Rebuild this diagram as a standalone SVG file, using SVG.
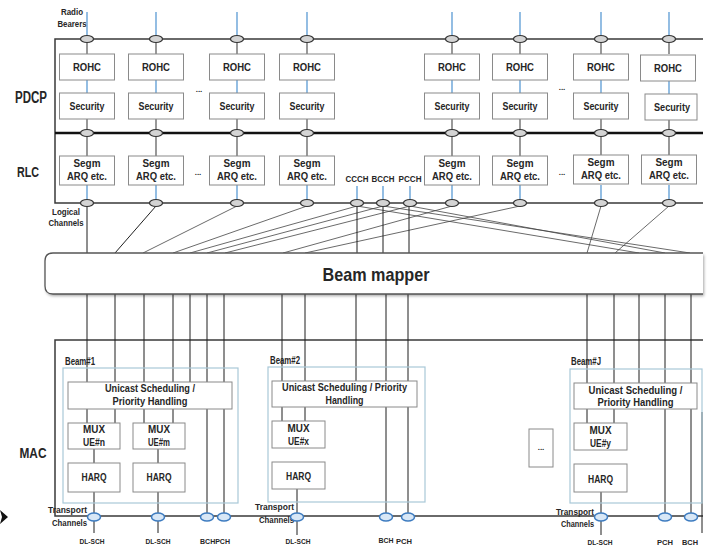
<svg xmlns="http://www.w3.org/2000/svg" width="708" height="546" viewBox="0 0 708 546">
<defs>
<style>
.t{font-family:"Liberation Sans",Arial,sans-serif;font-weight:bold;fill:#262626;text-anchor:middle}
.te{font-family:"Liberation Sans",Arial,sans-serif;font-weight:bold;fill:#262626;text-anchor:end}
.ts{font-family:"Liberation Sans",Arial,sans-serif;font-weight:bold;fill:#262626;text-anchor:start}
.box{fill:#fff;stroke:#8a8a8a;stroke-width:1}
.blue{stroke:#5B9BD5;stroke-width:1.3;fill:none}
.gray{stroke:#555;stroke-width:1.2;fill:none}
.ell{fill:#d4d4d4;stroke:#333;stroke-width:1.2}
.tell{fill:#d8e7f6;stroke:#3E7CC0;stroke-width:1.5}
.beam{fill:none;stroke:#a9c8d8;stroke-width:1.2}
.wire{stroke:#1f1f1f;stroke-width:1;fill:none}
.thin{stroke:#444;stroke-width:0.8;fill:none}
.frame{stroke:#3a3a3a;stroke-width:1.5;fill:none}
</style>
<filter id="sh" x="-5%" y="-20%" width="110%" height="150%"><feDropShadow dx="1" dy="2" stdDeviation="1.5" flood-color="#000" flood-opacity="0.35"/></filter>
</defs>
<rect width="708" height="546" fill="#fff"/>

<g id="frames">
<path class="frame" d="M703,39 H55 V203 H703"/>
<line x1="55" y1="133" x2="703" y2="133" stroke="#111" stroke-width="2.5"/>
<path class="frame" d="M703,340 H55 V516 H703"/>
<line x1="702" y1="412" x2="702" y2="533" class="wire"/>
</g>

<g id="labels">
<text class="t" x="31" y="103" font-size="16" textLength="32" lengthAdjust="spacingAndGlyphs">PDCP</text>
<text class="t" x="28" y="177" font-size="14" textLength="22" lengthAdjust="spacingAndGlyphs">RLC</text>
<text class="t" x="33" y="458" font-size="14" textLength="27" lengthAdjust="spacingAndGlyphs">MAC</text>
<text class="t" x="72" y="15" font-size="8.5" textLength="22" lengthAdjust="spacingAndGlyphs">Radio</text>
<text class="t" x="72" y="27" font-size="8.5" textLength="29" lengthAdjust="spacingAndGlyphs">Bearers</text>
<text class="t" x="66" y="215" font-size="8.5" textLength="28" lengthAdjust="spacingAndGlyphs">Logical</text>
<text class="t" x="66" y="226" font-size="8.5" textLength="35" lengthAdjust="spacingAndGlyphs">Channels</text>
<text class="t" x="357" y="182" font-size="9.5" textLength="23" lengthAdjust="spacingAndGlyphs">CCCH</text>
<text class="t" x="383" y="182" font-size="9.5" textLength="23" lengthAdjust="spacingAndGlyphs">BCCH</text>
<text class="t" x="410" y="182" font-size="9.5" textLength="23" lengthAdjust="spacingAndGlyphs">PCCH</text>
<text class="t" x="199" y="92" font-size="8">...</text>
<text class="t" x="562" y="90" font-size="8">...</text>
<text class="t" x="198" y="175" font-size="8">...</text>
<text class="t" x="562" y="175" font-size="8">...</text>
<text class="ts" x="65" y="365" font-size="10" textLength="30" lengthAdjust="spacingAndGlyphs">Beam#1</text>
<text class="ts" x="270" y="364" font-size="10" textLength="30" lengthAdjust="spacingAndGlyphs">Beam#2</text>
<text class="ts" x="571" y="365" font-size="10" textLength="30" lengthAdjust="spacingAndGlyphs">Beam#J</text>
<text class="te" x="87" y="513" font-size="9" textLength="39" lengthAdjust="spacingAndGlyphs">Transport</text>
<text class="te" x="87" y="526" font-size="9" textLength="35" lengthAdjust="spacingAndGlyphs">Channels</text>
<text class="te" x="294" y="510" font-size="9" textLength="39" lengthAdjust="spacingAndGlyphs">Transport</text>
<text class="te" x="294" y="523" font-size="9" textLength="35" lengthAdjust="spacingAndGlyphs">Channels</text>
<text class="te" x="594" y="515" font-size="9" textLength="38" lengthAdjust="spacingAndGlyphs">Transport</text>
<text class="te" x="594" y="527" font-size="9" textLength="33" lengthAdjust="spacingAndGlyphs">Channels</text>
<text class="t" x="92" y="544" font-size="8" textLength="25" lengthAdjust="spacingAndGlyphs">DL-SCH</text>
<text class="t" x="158" y="544" font-size="8" textLength="25" lengthAdjust="spacingAndGlyphs">DL-SCH</text>
<text class="t" x="215" y="544" font-size="8" textLength="30" lengthAdjust="spacingAndGlyphs">BCHPCH</text>
<text class="t" x="298" y="544" font-size="8" textLength="25" lengthAdjust="spacingAndGlyphs">DL-SCH</text>
<text class="t" x="386" y="543" font-size="8" textLength="15" lengthAdjust="spacingAndGlyphs">BCH</text>
<text class="t" x="404" y="544" font-size="8" textLength="16" lengthAdjust="spacingAndGlyphs">PCH</text>
<text class="t" x="600" y="545" font-size="8" textLength="25" lengthAdjust="spacingAndGlyphs">DL-SCH</text>
<text class="t" x="665" y="545" font-size="8" textLength="16" lengthAdjust="spacingAndGlyphs">PCH</text>
<text class="t" x="690" y="545" font-size="8" textLength="16" lengthAdjust="spacingAndGlyphs">BCH</text>
<polygon points="0,510 8,517 0,524 2,517" fill="#111"/>
</g>

<g id="connectors">
<g class="blue">
<path d="M87,12V35.5M156,12V35.5M237,12V35.5M307,12V35.5M452,12V35.5M520,12V35.5M601,12V35.5M669,12V35.5"/>
<path d="M87,80V93M156,80V93M237,80V93M307,80V93M452,80V93M520,80V93M601,80V93M669,80V94"/>
<path d="M87,185V199.5M156,185V199.5M237,185V199.5M307,185V199.5M452,185V199.5M520,185V199.5M601,185V199.5M669,185V199.5"/>
<path d="M357,186V199.5M383,186V199.5M410,186V199.5"/>
</g>
<g class="gray">
<path d="M87,42.5V54M156,42.5V54M237,42.5V54M307,42.5V54M452,42.5V54M520,42.5V54M601,42.5V54M669,42.5V54"/>
<path d="M87,119V129.5M156,119V129.5M237,119V129.5M307,119V129.5M452,119V129.5M520,119V129.5M601,119V129.5M669,120V129.5"/>
<path d="M87,136.5V156M156,136.5V156M237,136.5V156M307,136.5V156M452,136.5V156M520,136.5V156M601,136.5V156M669,136.5V156"/>
</g>
<line class="wire" x1="87" y1="206" x2="87" y2="253"/>
<line class="wire" x1="156" y1="206" x2="115" y2="253" stroke-width="1.2"/>
<g class="thin">
<line x1="237" y1="206" x2="143" y2="253"/>
<line x1="307" y1="206" x2="173" y2="253"/>
<line x1="357" y1="206" x2="190" y2="253"/>
<line x1="383" y1="206" x2="207" y2="253"/>
<line x1="410" y1="206" x2="225" y2="253"/>
<line x1="452" y1="206" x2="283" y2="253"/>
<line x1="520" y1="206" x2="305" y2="253"/>
<line x1="601" y1="206" x2="587" y2="253"/>
<line x1="669" y1="206" x2="615" y2="253"/>
<line x1="357" y1="206" x2="639" y2="253"/>
<line x1="410" y1="206" x2="665" y2="253"/>
<line x1="383" y1="206" x2="690" y2="253"/>
</g>
<g class="wire">
<line x1="357" y1="206" x2="357" y2="253"/>
<line x1="383" y1="206" x2="383" y2="253"/>
<line x1="409" y1="206" x2="409" y2="253"/>
</g>
<g class="wire">
<path d="M87,294V382M115,294V382M144,294V382M173,294V382M190,294V382"/>
<path d="M207,294V513M224,294V513"/>
<path d="M87,409V423M115,409V423M144,409V423M173,409V423"/>
<path d="M94,449V463M158,449V463"/>
<path d="M94,492V533M158,492V533"/>
<path d="M282,294V381M305,294V381M356,294V381"/>
<path d="M386,294V513M408,294V513"/>
<path d="M282,407V421M305,407V421"/>
<path d="M297,489V535"/>
<path d="M587,294V383M614,294V383M639,294V383"/>
<path d="M665,294V513M691,294V513"/>
<path d="M587,409V423M614,409V423"/>
<path d="M601,492V535"/>
</g>
</g>

<g id="ellipses">
<g class="ell">
<ellipse cx="87" cy="39" rx="6.5" ry="3.5"/><ellipse cx="156" cy="39" rx="6.5" ry="3.5"/><ellipse cx="237" cy="39" rx="6.5" ry="3.5"/><ellipse cx="307" cy="39" rx="6.5" ry="3.5"/><ellipse cx="452" cy="39" rx="6.5" ry="3.5"/><ellipse cx="520" cy="39" rx="6.5" ry="3.5"/><ellipse cx="601" cy="39" rx="6.5" ry="3.5"/><ellipse cx="669" cy="39" rx="6.5" ry="3.5"/>
<ellipse cx="87" cy="133" rx="6.5" ry="3.5"/><ellipse cx="156" cy="133" rx="6.5" ry="3.5"/><ellipse cx="237" cy="133" rx="6.5" ry="3.5"/><ellipse cx="307" cy="133" rx="6.5" ry="3.5"/><ellipse cx="452" cy="133" rx="6.5" ry="3.5"/><ellipse cx="520" cy="133" rx="6.5" ry="3.5"/><ellipse cx="601" cy="133" rx="6.5" ry="3.5"/><ellipse cx="669" cy="133" rx="6.5" ry="3.5"/>
<ellipse cx="87" cy="203" rx="6.5" ry="3.5"/><ellipse cx="156" cy="203" rx="6.5" ry="3.5"/><ellipse cx="237" cy="203" rx="6.5" ry="3.5"/><ellipse cx="307" cy="203" rx="6.5" ry="3.5"/><ellipse cx="452" cy="203" rx="6.5" ry="3.5"/><ellipse cx="520" cy="203" rx="6.5" ry="3.5"/><ellipse cx="601" cy="203" rx="6.5" ry="3.5"/><ellipse cx="669" cy="203" rx="6.5" ry="3.5"/>
<ellipse cx="357" cy="203" rx="6.5" ry="3.5"/><ellipse cx="383" cy="203" rx="6.5" ry="3.5"/><ellipse cx="410" cy="203" rx="6.5" ry="3.5"/>
</g>
<g class="tell">
<ellipse cx="94" cy="517" rx="6.5" ry="4"/><ellipse cx="158" cy="517" rx="6.5" ry="4"/><ellipse cx="207" cy="517" rx="6.5" ry="4"/><ellipse cx="224" cy="517" rx="6.5" ry="4"/>
<ellipse cx="297" cy="517" rx="6.5" ry="4"/><ellipse cx="386" cy="517" rx="6.5" ry="4"/><ellipse cx="408" cy="517" rx="6.5" ry="4"/>
<ellipse cx="601" cy="517" rx="6.5" ry="4"/><ellipse cx="665" cy="517" rx="6.5" ry="4"/><ellipse cx="691" cy="517" rx="6.5" ry="4"/>
</g>
</g>

<g id="rohc">
<g id="rohc1"><rect class="box" x="59.5" y="54" width="55" height="26"/><text class="t" x="87" y="71" font-size="11.5" textLength="28" lengthAdjust="spacingAndGlyphs">ROHC</text></g>
<g id="rohc2"><rect class="box" x="128.5" y="54" width="55" height="26"/><text class="t" x="156" y="71" font-size="11.5" textLength="28" lengthAdjust="spacingAndGlyphs">ROHC</text></g>
<g id="rohc3"><rect class="box" x="209.5" y="54" width="55" height="26"/><text class="t" x="237" y="71" font-size="11.5" textLength="28" lengthAdjust="spacingAndGlyphs">ROHC</text></g>
<g id="rohc4"><rect class="box" x="279.5" y="54" width="55" height="26"/><text class="t" x="307" y="71" font-size="11.5" textLength="28" lengthAdjust="spacingAndGlyphs">ROHC</text></g>
<g id="rohc5"><rect class="box" x="424.5" y="54" width="55" height="26"/><text class="t" x="452" y="71" font-size="11.5" textLength="28" lengthAdjust="spacingAndGlyphs">ROHC</text></g>
<g id="rohc6"><rect class="box" x="492.5" y="54" width="55" height="26"/><text class="t" x="520" y="71" font-size="11.5" textLength="28" lengthAdjust="spacingAndGlyphs">ROHC</text></g>
<g id="rohc7"><rect class="box" x="573.5" y="54" width="55" height="26"/><text class="t" x="601" y="71" font-size="11.5" textLength="28" lengthAdjust="spacingAndGlyphs">ROHC</text></g>
<g id="rohc8"><rect class="box" x="640.5" y="55" width="55" height="26" stroke="#555"/><text class="t" x="668" y="72" font-size="11.5" textLength="28" lengthAdjust="spacingAndGlyphs">ROHC</text></g>
</g>

<g id="security">
<g id="sec1"><rect class="box" x="59.5" y="93" width="55" height="26"/><text class="t" x="87" y="110" font-size="11.5" textLength="35" lengthAdjust="spacingAndGlyphs">Security</text></g>
<g id="sec2"><rect class="box" x="128.5" y="93" width="55" height="26"/><text class="t" x="156" y="110" font-size="11.5" textLength="35" lengthAdjust="spacingAndGlyphs">Security</text></g>
<g id="sec3"><rect class="box" x="209.5" y="93" width="55" height="26"/><text class="t" x="237" y="110" font-size="11.5" textLength="35" lengthAdjust="spacingAndGlyphs">Security</text></g>
<g id="sec4"><rect class="box" x="279.5" y="93" width="55" height="26"/><text class="t" x="307" y="110" font-size="11.5" textLength="35" lengthAdjust="spacingAndGlyphs">Security</text></g>
<g id="sec5"><rect class="box" x="424.5" y="93" width="55" height="26"/><text class="t" x="452" y="110" font-size="11.5" textLength="35" lengthAdjust="spacingAndGlyphs">Security</text></g>
<g id="sec6"><rect class="box" x="492.5" y="93" width="55" height="26"/><text class="t" x="520" y="110" font-size="11.5" textLength="35" lengthAdjust="spacingAndGlyphs">Security</text></g>
<g id="sec7"><rect class="box" x="573.5" y="93" width="55" height="26"/><text class="t" x="601" y="110" font-size="11.5" textLength="35" lengthAdjust="spacingAndGlyphs">Security</text></g>
<g id="sec8"><rect class="box" x="645" y="94" width="52" height="26"/><text class="t" x="672" y="111" font-size="11.5" textLength="36" lengthAdjust="spacingAndGlyphs">Security</text></g>
</g>

<g id="rlc">
<g id="segm1"><rect class="box" x="59.5" y="156" width="55" height="29"/><text class="t" x="87" y="167" font-size="11" textLength="27" lengthAdjust="spacingAndGlyphs">Segm</text><text class="t" x="87" y="180" font-size="11" textLength="40" lengthAdjust="spacingAndGlyphs">ARQ etc.</text></g>
<g id="segm2"><rect class="box" x="128.5" y="156" width="55" height="29"/><text class="t" x="156" y="167" font-size="11" textLength="27" lengthAdjust="spacingAndGlyphs">Segm</text><text class="t" x="156" y="180" font-size="11" textLength="40" lengthAdjust="spacingAndGlyphs">ARQ etc.</text></g>
<g id="segm3"><rect class="box" x="209.5" y="156" width="55" height="29"/><text class="t" x="237" y="167" font-size="11" textLength="27" lengthAdjust="spacingAndGlyphs">Segm</text><text class="t" x="237" y="180" font-size="11" textLength="40" lengthAdjust="spacingAndGlyphs">ARQ etc.</text></g>
<g id="segm4"><rect class="box" x="279.5" y="156" width="55" height="29"/><text class="t" x="307" y="167" font-size="11" textLength="27" lengthAdjust="spacingAndGlyphs">Segm</text><text class="t" x="307" y="180" font-size="11" textLength="40" lengthAdjust="spacingAndGlyphs">ARQ etc.</text></g>
<g id="segm5"><rect class="box" x="424.5" y="156" width="55" height="29"/><text class="t" x="452" y="167" font-size="11" textLength="27" lengthAdjust="spacingAndGlyphs">Segm</text><text class="t" x="452" y="180" font-size="11" textLength="40" lengthAdjust="spacingAndGlyphs">ARQ etc.</text></g>
<g id="segm6"><rect class="box" x="492.5" y="156" width="55" height="29"/><text class="t" x="520" y="167" font-size="11" textLength="27" lengthAdjust="spacingAndGlyphs">Segm</text><text class="t" x="520" y="180" font-size="11" textLength="40" lengthAdjust="spacingAndGlyphs">ARQ etc.</text></g>
<g id="segm7"><rect class="box" x="573.5" y="155" width="55" height="29"/><text class="t" x="601" y="166" font-size="11" textLength="27" lengthAdjust="spacingAndGlyphs">Segm</text><text class="t" x="601" y="179" font-size="11" textLength="40" lengthAdjust="spacingAndGlyphs">ARQ etc.</text></g>
<g id="segm8"><rect class="box" x="641.5" y="155" width="55" height="29"/><text class="t" x="669" y="166" font-size="11" textLength="27" lengthAdjust="spacingAndGlyphs">Segm</text><text class="t" x="669" y="179" font-size="11" textLength="40" lengthAdjust="spacingAndGlyphs">ARQ etc.</text></g>
</g>

<g id="beam-mapper">
<path d="M53,253 H703 V294 H53 Q45,294 45,286 V261 Q45,253 53,253 Z" fill="#fff" filter="url(#sh)"/>
<path d="M703,253 H53 Q45,253 45,261 V286 Q45,294 53,294 H703" fill="none" stroke="#555" stroke-width="1.3"/>
<text class="t" x="376" y="281" font-size="19" textLength="107" lengthAdjust="spacingAndGlyphs">Beam mapper</text>
</g>

<g id="beam1">
<rect class="beam" x="63" y="368" width="175" height="135"/>
<g id="b1-sched"><rect class="box" x="68" y="382" width="164" height="27"/><text class="t" x="150" y="392" font-size="10.5" textLength="90" lengthAdjust="spacingAndGlyphs">Unicast Scheduling /</text><text class="t" x="150" y="405" font-size="10.5" textLength="75" lengthAdjust="spacingAndGlyphs">Priority Handling</text></g>
<g id="b1-mux1"><rect class="box" x="68" y="423" width="52" height="26"/><text class="t" x="94" y="433" font-size="10.5" textLength="22" lengthAdjust="spacingAndGlyphs">MUX</text><text class="t" x="94" y="446" font-size="10.5" textLength="22" lengthAdjust="spacingAndGlyphs">UE#n</text></g>
<g id="b1-mux2"><rect class="box" x="133" y="423" width="52" height="26"/><text class="t" x="159" y="433" font-size="10.5" textLength="22" lengthAdjust="spacingAndGlyphs">MUX</text><text class="t" x="159" y="446" font-size="10.5" textLength="22" lengthAdjust="spacingAndGlyphs">UE#m</text></g>
<g id="b1-harq1"><rect class="box" x="68" y="463" width="52" height="29"/><text class="t" x="94" y="481" font-size="10.5" textLength="25" lengthAdjust="spacingAndGlyphs">HARQ</text></g>
<g id="b1-harq2"><rect class="box" x="133" y="463" width="52" height="29"/><text class="t" x="159" y="481" font-size="10.5" textLength="25" lengthAdjust="spacingAndGlyphs">HARQ</text></g>
</g>

<g id="beam2">
<rect class="beam" x="268" y="367" width="157" height="135"/>
<g id="b2-sched"><rect class="box" x="272" y="381" width="145" height="26"/><text class="t" x="344.5" y="391" font-size="10.5" textLength="125" lengthAdjust="spacingAndGlyphs">Unicast Scheduling / Priority</text><text class="t" x="344.5" y="404" font-size="10.5" textLength="38" lengthAdjust="spacingAndGlyphs">Handling</text></g>
<g id="b2-mux"><rect class="box" x="272" y="421" width="53" height="27"/><text class="t" x="298.5" y="432" font-size="10.5" textLength="22" lengthAdjust="spacingAndGlyphs">MUX</text><text class="t" x="298.5" y="445" font-size="10.5" textLength="21" lengthAdjust="spacingAndGlyphs">UE#x</text></g>
<g id="b2-harq"><rect class="box" x="272" y="462" width="53" height="27"/><text class="t" x="298.5" y="480" font-size="10.5" textLength="25" lengthAdjust="spacingAndGlyphs">HARQ</text></g>
</g>

<g id="beam-dots"><rect class="box" x="529" y="429" width="24" height="38"/><text class="t" x="541" y="450" font-size="8">...</text></g>

<g id="beamJ">
<rect class="beam" x="570" y="369" width="132" height="134"/>
<g id="bJ-sched"><rect class="box" x="574" y="383" width="123" height="26"/><text class="t" x="635.5" y="394" font-size="10.5" textLength="94" lengthAdjust="spacingAndGlyphs">Unicast Scheduling /</text><text class="t" x="635.5" y="406" font-size="10.5" textLength="76" lengthAdjust="spacingAndGlyphs">Priority Handling</text></g>
<g id="bJ-mux"><rect class="box" x="574" y="423" width="53" height="27"/><text class="t" x="600.5" y="434" font-size="10.5" textLength="22" lengthAdjust="spacingAndGlyphs">MUX</text><text class="t" x="600.5" y="447" font-size="10.5" textLength="21" lengthAdjust="spacingAndGlyphs">UE#y</text></g>
<g id="bJ-harq"><rect class="box" x="574" y="464" width="53" height="28"/><text class="t" x="600.5" y="483" font-size="10.5" textLength="25" lengthAdjust="spacingAndGlyphs">HARQ</text></g>
</g>
</svg>
